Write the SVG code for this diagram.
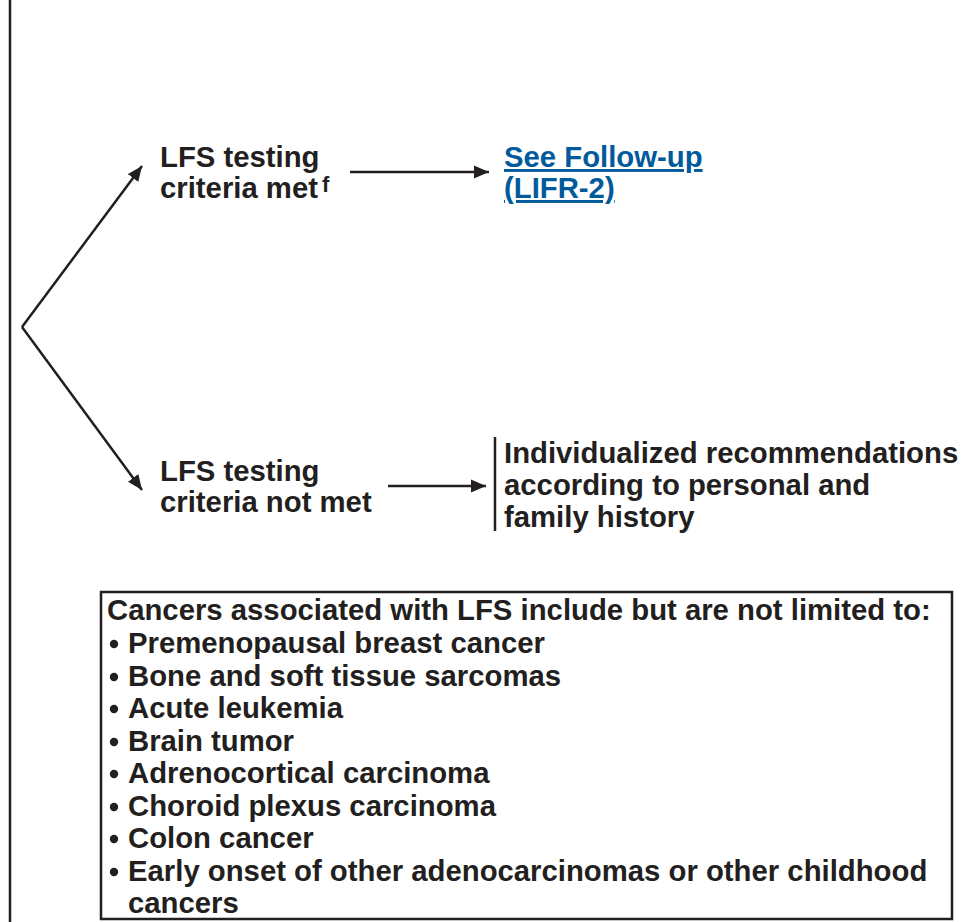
<svg xmlns="http://www.w3.org/2000/svg" width="963" height="922" viewBox="0 0 963 922">
<defs>
<style>
.t{font-family:"Liberation Sans",Arial,sans-serif;font-weight:bold;font-size:29.3px;fill:#231f20}
.lk{fill:#005a9c;text-decoration:underline}
.ln{stroke:#231f20;stroke-width:2.5;fill:none}
.d{fill:#231f20}
</style>
<marker id="ah" markerUnits="userSpaceOnUse" markerWidth="16" markerHeight="14" refX="15" refY="7" orient="auto">
<path d="M0,0.5 L15,7 L0,13.5 Z" fill="#231f20"/>
</marker>
</defs>
<rect width="963" height="922" fill="#ffffff"/>
<g id="connectors">
<line class="ln" x1="10" y1="0" x2="10" y2="922"/>
<line class="ln" x1="22" y1="327" x2="142" y2="166" marker-end="url(#ah)"/>
<line class="ln" x1="22" y1="327" x2="142" y2="490" marker-end="url(#ah)"/>
<line class="ln" x1="350" y1="172" x2="489" y2="172" marker-end="url(#ah)"/>
<line class="ln" x1="388" y1="486" x2="486" y2="486" marker-end="url(#ah)"/>
</g>
<g id="met">
<text class="t" x="160" y="167">LFS testing</text>
<text class="t" x="160" y="198">criteria met<tspan font-size="22" dx="4" dy="-6">f</tspan></text>
</g>
<g id="followup">
<text class="t lk" x="504" y="167">See Follow-up</text>
<text class="t lk" x="504" y="198">(LIFR-2)</text>
</g>
<g id="notmet">
<text class="t" x="160" y="481">LFS testing</text>
<text class="t" x="160" y="512">criteria not met</text>
</g>
<g id="individualized">
<line class="ln" x1="495" y1="437" x2="495" y2="531"/>
<text class="t" x="504" y="463">Individualized recommendations</text>
<text class="t" x="504" y="495">according to personal and</text>
<text class="t" x="504" y="527">family history</text>
</g>
<g id="cancers">
<rect x="101" y="592" width="851" height="327" fill="none" stroke="#231f20" stroke-width="2.5"/>
<text class="t" x="107" y="620">Cancers associated with LFS include but are not limited to:</text>
<circle class="d" cx="114" cy="644" r="4.2"/>
<circle class="d" cx="114" cy="677" r="4.2"/>
<circle class="d" cx="114" cy="709" r="4.2"/>
<circle class="d" cx="114" cy="742" r="4.2"/>
<circle class="d" cx="114" cy="774" r="4.2"/>
<circle class="d" cx="114" cy="807" r="4.2"/>
<circle class="d" cx="114" cy="839" r="4.2"/>
<circle class="d" cx="114" cy="872" r="4.2"/>
<text class="t" x="128" y="653">Premenopausal breast cancer</text>
<text class="t" x="128" y="686">Bone and soft tissue sarcomas</text>
<text class="t" x="128" y="718">Acute leukemia</text>
<text class="t" x="128" y="751">Brain tumor</text>
<text class="t" x="128" y="783">Adrenocortical carcinoma</text>
<text class="t" x="128" y="816">Choroid plexus carcinoma</text>
<text class="t" x="128" y="848">Colon cancer</text>
<text class="t" x="128" y="881">Early onset of other adenocarcinomas or other childhood</text>
<text class="t" x="128" y="913">cancers</text>
</g>
</svg>
